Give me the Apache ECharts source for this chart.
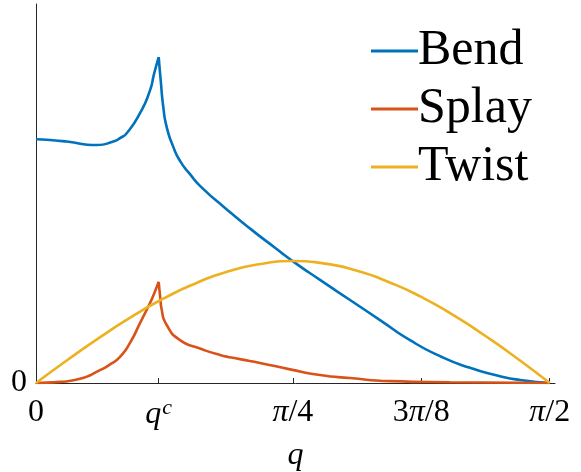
<!DOCTYPE html>
<html>
<head>
<meta charset="utf-8">
<script src="https://cdn.jsdelivr.net/npm/echarts@6/dist/echarts.min.js"></script>
<style>
  html, body { margin: 0; padding: 0; background: #fff; }
  #chart { width: 581px; height: 472px; }
</style>
</head>
<body>
<div id="chart"></div>
<script>
// Elastic constants versus tilt angle q (radians), arbitrary units
const Q_C = 0.3752;
const tickValues = [0, Q_C, 0.7854, 1.1781, 1.5708];
const tickLabels = ['0', '{i|q}{sup|c}', '{i|π}/4', '3{i|π}/8', '{i|π}/2'];

// Bend: slow dip, cusp at q^c, then a long decay to zero at π/2
const bendQ = [0, 0.0428, 0.0939, 0.1856, 0.2364, 0.2569, 0.2773, 0.318, 0.3486, 0.3608, 0.3752,
  0.3813, 0.3893, 0.3997, 0.4198, 0.4403, 0.4709, 0.5015, 0.5779, 0.6596, 0.7308, 0.7859,
  0.8684, 0.9602, 1.0519, 1.1436, 1.2354, 1.3271, 1.4188, 1.48, 1.5708];
const bendVal = [0.643, 0.641, 0.637, 0.628, 0.637, 0.646, 0.659, 0.712, 0.772, 0.815, 0.860,
  0.799, 0.728, 0.675, 0.623, 0.586, 0.551, 0.520, 0.462, 0.404, 0.357, 0.321,
  0.272, 0.219, 0.166, 0.113, 0.071, 0.040, 0.018, 0.008, 0];

// Splay: rises to a smaller cusp at q^c, then decays quickly
const splayQ = [0, 0.0734, 0.1345, 0.1957, 0.2263, 0.2569, 0.2874, 0.318, 0.3486, 0.3608, 0.3752,
  0.3801, 0.3844, 0.3997, 0.4403, 0.5015, 0.5626, 0.6238, 0.6849, 0.7767, 0.8684,
  0.9602, 1.0825, 1.266, 1.5708];
const splayVal = [0, 0.003, 0.011, 0.034, 0.049, 0.069, 0.106, 0.158, 0.211, 0.235, 0.267,
  0.224, 0.193, 0.153, 0.113, 0.091, 0.074, 0.063, 0.053, 0.036, 0.021,
  0.013, 0.005, 0.002, 0];

// Twist: single smooth hump peaking at π/4
const twistQ = [0, 0.0982, 0.1963, 0.2945, 0.3927, 0.4909, 0.589, 0.6872, 0.7854,
  0.8836, 0.9817, 1.0799, 1.1781, 1.2763, 1.3744, 1.4726, 1.5708];
const twistVal = [0, 0.062, 0.121, 0.176, 0.224, 0.264, 0.295, 0.314, 0.322,
  0.315, 0.296, 0.266, 0.227, 0.179, 0.124, 0.064, 0];

const pairs = (xs, ys) => xs.map((x, i) => [x, ys[i]]);

const FONT = '"Liberation Serif", "DejaVu Serif", serif';
const INK = '#262626';
const COLORS = { Bend: '#0072BD', Splay: '#D95319', Twist: '#EDB120' };

const chart = echarts.init(document.getElementById('chart'), null, { renderer: 'canvas' });

// Each curve is split at the cusp q^c so the smoothing never rounds the sharp peak
const splitAt = (xs, ys, q) => {
  const k = xs.indexOf(q);
  if (k < 0) return [pairs(xs, ys)];
  return [pairs(xs.slice(0, k + 1), ys.slice(0, k + 1)), pairs(xs.slice(k), ys.slice(k))];
};

const lineSeries = (name, xs, ys) => splitAt(xs, ys, Q_C).map(part => ({
  name, type: 'line', data: part,
  showSymbol: false, symbol: 'none', smooth: 0.6,
  lineStyle: { color: COLORS[name], width: 2.6 }, itemStyle: { color: COLORS[name] },
  animation: false, z: 3
}));

chart.setOption({
  animation: false,
  grid: { left: 36, right: 26, top: 4, bottom: 89, outerBoundsMode: 'none', containLabel: false },
  legend: {
    orient: 'vertical', left: 366, top: 17,
    itemWidth: 47, itemHeight: 14, itemGap: 0,
    icon: 'path://M0,5.5L47,5.5L47,8.5L0,8.5Z',
    textStyle: { fontFamily: FONT, fontSize: 50, color: '#000', lineHeight: 46, padding: [0, 0, 12, -5] },
    data: ['Bend', 'Splay', 'Twist']
  },
  xAxis: {
    type: 'value', min: 0, max: 1.587,
    axisLine: { show: true, lineStyle: { color: INK, width: 1 } },
    axisTick: { show: true, inside: true, length: 5, customValues: tickValues, lineStyle: { color: INK } },
    splitLine: { show: false },
    axisLabel: {
      customValues: tickValues, margin: 14, color: '#000',
      fontFamily: FONT, fontSize: 32,
      formatter: v => {
        let best = 0;
        tickValues.forEach((t, i) => { if (Math.abs(t - v) < Math.abs(tickValues[best] - v)) best = i; });
        return tickLabels[best];
      },
      rich: {
        i: { fontFamily: FONT, fontSize: 32, fontStyle: 'italic', color: '#000' },
        sup: { fontFamily: FONT, fontSize: 22, fontStyle: 'italic', color: '#000', verticalAlign: 'top', padding: [0, 0, 14, 1] }
      }
    },
    name: 'q', nameLocation: 'middle', nameGap: 57,
    nameTextStyle: { fontFamily: FONT, fontSize: 32, fontStyle: 'italic', color: '#000' }
  },
  yAxis: {
    type: 'value', min: 0, max: 1,
    axisLine: { show: true, lineStyle: { color: INK, width: 1 } },
    axisTick: { show: false },
    splitLine: { show: false },
    axisLabel: { customValues: [0], margin: 9, color: '#000', fontFamily: FONT, fontSize: 32 }
  },
  series: [
    ...lineSeries('Bend', bendQ, bendVal),
    ...lineSeries('Splay', splayQ, splayVal),
    ...lineSeries('Twist', twistQ, twistVal)
  ]
});
</script>
</body>
</html>
